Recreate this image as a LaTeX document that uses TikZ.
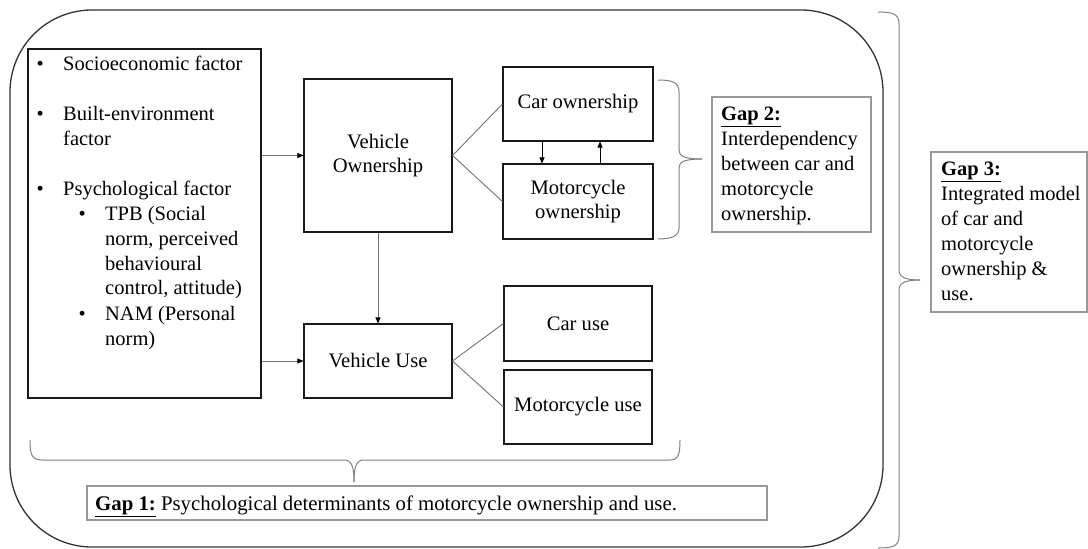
\documentclass[tikz,border=0pt]{standalone}
\usepackage{fontspec}
\setmainfont{Liberation Serif}
\usetikzlibrary{arrows.meta}
\begin{document}
\begin{tikzpicture}[x=1pt,y=-1pt,
  box/.style={draw=black!90,line width=1.1pt,inner sep=0pt,font=\fontsize{20.6}{24}\selectfont,align=center},
  gapbox/.style={draw=black!40,line width=1.1pt,inner sep=0pt},
  txt/.style={anchor=base west,inner sep=0pt,font=\fontsize{20.5}{25}\selectfont},
  conn/.style={draw=black!55,line width=0.9pt},
  brace/.style={draw=black!50,line width=1pt},
  arr/.style={draw=black!55,line width=0.9pt,-{Triangle[color=black,length=6pt,width=5pt]}},
  barr/.style={draw=black,line width=0.9pt,-{Triangle[length=6pt,width=5pt]}},
]
\useasboundingbox (0,0) rectangle (1088,549);
\draw[draw=black!80,line width=1.3pt,rounded corners=82pt] (10,10) rectangle (883,547);

% factor box
\node[box,minimum width=233pt,minimum height=349pt] (factors) at (144.5,223.5) {};
\node[txt] (factorstext) at (36.5,70)
 {\vtop{\baselineskip=25pt\lineskiplimit=0pt
  \hbox{\makebox[26.5pt][l]{\textbullet}Socioeconomic factor}
  \hbox{}
  \hbox{\makebox[26.5pt][l]{\textbullet}Built-environment}
  \hbox{\hspace*{26.5pt}factor}
  \hbox{}
  \hbox{\makebox[26.5pt][l]{\textbullet}Psychological factor}
  \hbox{\hspace*{42pt}\makebox[26.5pt][l]{\textbullet}TPB (Social}
  \hbox{\hspace*{68.5pt}norm, perceived}
  \hbox{\hspace*{68.5pt}behavioural}
  \hbox{\hspace*{68.5pt}control, attitude)}
  \hbox{\hspace*{42pt}\makebox[26.5pt][l]{\textbullet}NAM (Personal}
  \hbox{\hspace*{68.5pt}norm)}}};

% main boxes
\node[box,minimum width=148pt,minimum height=153pt] (vo) at (378,155.5) {Vehicle\\Ownership};
\node[box,minimum width=150pt,minimum height=74pt] (co) at (578,104) {Car ownership};
\node[box,minimum width=150pt,minimum height=75pt] (mo) at (578,201.5) {Motorcycle\\ownership};
\node[box,minimum width=148pt,minimum height=74pt] (vu) at (378,361) {Vehicle Use};
\node[box,minimum width=148pt,minimum height=75pt] (cu) at (578,323.5) {Car use};
\node[box,minimum width=148pt,minimum height=74pt] (mu) at (578,407) {Motorcycle use};

% gap boxes
\node[gapbox,minimum width=159pt,minimum height=135pt] (gap2) at (791.5,164.5) {};
\node[txt] (gap2text) at (721,120)
 {\vtop{\baselineskip=25pt\lineskiplimit=0pt
  \hbox{\underline{\textbf{Gap 2:}}}
  \hbox{Interdependency}
  \hbox{between car and}
  \hbox{motorcycle}
  \hbox{ownership.}}};
\node[gapbox,minimum width=156pt,minimum height=160pt] (gap3) at (1009,232) {};
\node[txt] (gap3text) at (941,175)
 {\vtop{\baselineskip=25pt\lineskiplimit=0pt
  \hbox{\underline{\textbf{Gap 3:}}}
  \hbox{Integrated model}
  \hbox{of car and}
  \hbox{motorcycle}
  \hbox{ownership \&}
  \hbox{use.}}};
\node[gapbox,minimum width=680pt,minimum height=34pt] (gap1) at (427,503) {};
\node[txt,font=\fontsize{20.8}{25}\selectfont] (gap1text) at (95,510)
 {\underline{\textbf{Gap 1:}} Psychological determinants of motorcycle ownership and use.};

% connectors
\draw[conn] (vo.east) -- (co.west);
\draw[conn] (vo.east) -- (mo.west);
\draw[conn] (vu.east) -- (cu.west);
\draw[conn] (vu.east) -- (mu.west);
\draw[arr] (vo.west -| factors.east) -- (vo.west);
\draw[arr] (vu.west -| factors.east) -- (vu.west);
\draw[arr] (vo.south) -- (vu.north);
\coordinate (d1) at (542,0);
\coordinate (u1) at (600,0);
\draw[barr] (co.south -| d1) -- (mo.north -| d1);
\draw[barr] (mo.north -| u1) -- (co.south -| u1);

% braces
\draw[brace] (658,80) .. controls (672,80) and (679,82) .. (679,92) -- (679,150) .. controls (679,156) and (684,159) .. (702,159);
\draw[brace] (702,159) .. controls (684,159) and (679,162) .. (679,168) -- (679,228) .. controls (679,236) and (672,239) .. (658,239);
\draw[brace] (878,12) .. controls (893,12) and (899,14) .. (899,24) -- (899,270) .. controls (899,277) and (905,280) .. (920,280);
\draw[brace] (920,280) .. controls (905,280) and (899,283) .. (899,290) -- (899,536) .. controls (899,546) and (893,548) .. (878,548);
\draw[brace] (30,440) .. controls (30,455) and (32,460) .. (42,460) -- (344,460) .. controls (351,460) and (354,465) .. (354,482);
\draw[brace] (354,482) .. controls (354,465) and (357,460) .. (364,460) -- (670,460) .. controls (678,460) and (680,455) .. (680,440);
\end{tikzpicture}
\end{document}
